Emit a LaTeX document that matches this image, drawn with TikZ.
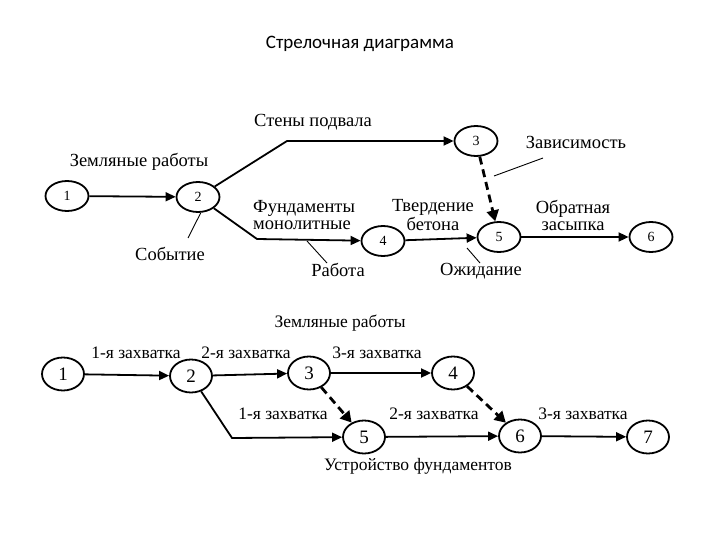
\documentclass[tikz,border=0pt]{standalone}
\usepackage{fontspec}
\setmainfont{Liberation Serif}
\newfontfamily\titlefont{Carlito}
\usetikzlibrary{shapes.geometric,arrows.meta}
\begin{document}
\begin{tikzpicture}[x=1pt,y=-1pt,
  ev/.style={ellipse,draw,line width=1.8pt,minimum width=43pt,minimum height=30pt,inner sep=0pt,font=\fontsize{14}{14}\selectfont},
  evb/.style={ev,minimum width=42pt,minimum height=33pt,font=\fontsize{19}{19}\selectfont},
  lbl/.style={inner sep=0pt,font=\fontsize{18.5}{17}\selectfont},
  lblb/.style={inner sep=0pt,font=\fontsize{17.5}{17}\selectfont},
  arr/.style={line width=1.8pt,-{Triangle[length=10pt,width=9pt]}},
  dep/.style={line width=2.8pt,dash pattern=on 8pt off 5pt,-{Triangle[length=11pt,width=12pt]}},
  lead/.style={line width=0.9pt}]
\useasboundingbox (0,0) rectangle (720,540);
\node[font=\titlefont\fontsize{19}{19}\selectfont] (title) at (360,44) {Стрелочная диаграмма};

% ---- top diagram
\node[ev] (n1) at (67,196) {1};
\node[ev] (n2) at (198,197) {2};
\node[ev] (n3) at (476,141) {3};
\node[ev] (n4) at (383,241) {4};
\node[ev] (n5) at (499,237) {5};
\node[ev] (n6) at (651,237) {6};
\coordinate (b1) at (287,141);
\coordinate (b2) at (257,239);
\draw[arr] (n1) -- (n2);
\draw[arr] (n2) -- (b1) -- (n3);
\draw[arr] (n2) -- (b2) -- (n4);
\draw[arr] (n4) -- (n5);
\draw[arr] (n5) -- (n6);
\draw[dep] (n3) -- (n5);

\node[lbl] (l1) at (139,162) {Земляные работы};
\node[lbl] (l2) at (313,122) {Стены подвала};
\node[lbl] (l3) at (576,142) {Зависимость};
\node[lbl,align=left,anchor=west] (l4) at (253,215) {Фундаменты\\монолитные};
\node[lbl] (l5) at (170,254) {Событие};
\node[lbl] (l6) at (338,270) {Работа};
\node[lbl,align=center] (l7) at (433,215) {Твердение\\бетона};
\node[lbl] (l8) at (481,271) {Ожидание};
\node[lbl,align=center] (l9) at (573,215) {Обратная\\засыпка};

\coordinate (c5) at (188,238);
\coordinate (c6a) at (307,241);
\coordinate (c6b) at (327,263);
\coordinate (c8a) at (467,248);
\coordinate (c8b) at (480,263);
\coordinate (c3a) at (543,158);
\coordinate (c3b) at (494,176);
\draw[lead] (n2.-80) -- (c5);
\draw[lead] (c6a) -- (c6b);
\draw[lead] (c8a) -- (c8b);
\draw[lead] (c3a) -- (c3b);

% ---- bottom diagram
\node[evb] (m1) at (63,374) {1};
\node[evb] (m2) at (191,376) {2};
\node[evb] (m3) at (309,373) {3};
\node[evb] (m4) at (453,373) {4};
\node[evb] (m5) at (364,437) {5};
\node[evb] (m6) at (520,436) {6};
\node[evb] (m7) at (648,437) {7};
\coordinate (b3) at (232,438);
\draw[arr] (m1) -- (m2);
\draw[arr] (m2) -- (m3);
\draw[arr] (m3) -- (m4);
\draw[arr] (m2) -- (b3) -- (m5);
\draw[arr] (m5) -- (m6);
\draw[arr] (m6) -- (m7);
\draw[dep] (m3) -- (m5);
\draw[dep] (m4) -- (m6);

\node[lblb] (k0) at (340,323) {Земляные работы};
\node[lblb] (k1) at (136,353) {1-я захватка};
\node[lblb] (k2) at (246,353) {2-я захватка};
\node[lblb] (k3) at (377,353) {3-я захватка};
\node[lblb] (k4) at (283,414) {1-я захватка};
\node[lblb] (k5) at (434,414) {2-я захватка};
\node[lblb] (k6) at (583,414) {3-я захватка};
\node[lblb] (k7) at (418,466) {Устройство фундаментов};
\end{tikzpicture}
\end{document}
